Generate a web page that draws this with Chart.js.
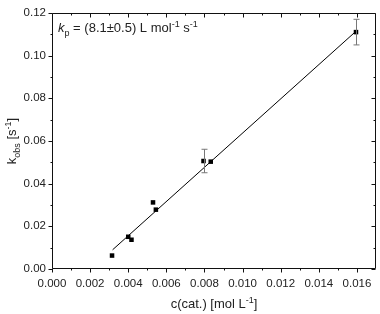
<!DOCTYPE html>
<html>
<head>
<meta charset="utf-8">
<script src="https://cdn.jsdelivr.net/npm/chart.js@4/dist/chart.umd.min.js"></script>
<style>
html,body{margin:0;padding:0;background:#fff;}
#wrap{width:380px;height:314px;position:relative;}
</style>
</head>
<body>
<div id="wrap"><canvas id="c" width="380" height="314"></canvas></div>
<script>
// Data
const concentrations = [0.00315, 0.0040, 0.00417, 0.0053, 0.00545, 0.00795, 0.00833, 0.01595];
const kobsValues     = [0.0063, 0.0151, 0.0137, 0.0312, 0.0278, 0.0506, 0.0503, 0.1110];
const kobsErrors     = [0, 0, 0, 0, 0, 0.0055, 0, 0.0060];
const fitX = [0.00318, 0.0160];
const fitY = [0.0090, 0.1118];
const xTickValues = [0, 0.002, 0.004, 0.006, 0.008, 0.010, 0.012, 0.014, 0.016];
const yTickValues = [0, 0.02, 0.04, 0.06, 0.08, 0.10, 0.12];
const xMinorValues = [0.001, 0.003, 0.005, 0.007, 0.009, 0.011, 0.013, 0.015];
const yMinorValues = [0.01, 0.03, 0.05, 0.07, 0.09, 0.11];

const FONT = '"Liberation Sans", Arial, sans-serif';
const TXT = '#222';

const framePlugin = {
  id: 'frame',
  afterDatasetsDraw(chart) {
    const ctx = chart.ctx;
    const a = chart.chartArea;
    const xs = chart.scales.x, ys = chart.scales.y;
    ctx.save();
    // error bars
    ctx.strokeStyle = '#777';
    ctx.lineWidth = 1;
    concentrations.forEach((cx, i) => {
      const e = kobsErrors[i];
      if (!e) return;
      const px = Math.round(xs.getPixelForValue(cx)) + 0.5;
      const yt = ys.getPixelForValue(kobsValues[i] + e);
      const yb = ys.getPixelForValue(kobsValues[i] - e);
      ctx.beginPath();
      ctx.moveTo(px, yt); ctx.lineTo(px, yb);
      ctx.moveTo(px - 3, yt); ctx.lineTo(px + 3, yt);
      ctx.moveTo(px - 3, yb); ctx.lineTo(px + 3, yb);
      ctx.stroke();
    });
    // frame
    ctx.strokeStyle = '#111';
    ctx.lineWidth = 1;
    const L = Math.round(a.left) + 0.5, R = Math.round(a.right) - 0.5;
    const T = Math.round(a.top) + 0.5, B = Math.round(a.bottom) - 0.5;
    ctx.beginPath();
    ctx.rect(L, T, R - L, B - T);
    ctx.stroke();
    ctx.beginPath();
    xTickValues.forEach(v => {
      const p = Math.round(xs.getPixelForValue(v)) + 0.5;
      ctx.moveTo(p, B); ctx.lineTo(p, B + 4);
      ctx.moveTo(p, T); ctx.lineTo(p, T + 4);
    });
    xMinorValues.forEach(v => {
      const p = Math.round(xs.getPixelForValue(v)) + 0.5;
      ctx.moveTo(p, B); ctx.lineTo(p, B + 2);
      ctx.moveTo(p, T); ctx.lineTo(p, T + 2);
    });
    yTickValues.forEach(v => {
      const p = Math.round(ys.getPixelForValue(v)) + 0.5;
      ctx.moveTo(L, p); ctx.lineTo(L - 4, p);
      ctx.moveTo(R, p); ctx.lineTo(R - 4, p);
    });
    yMinorValues.forEach(v => {
      const p = Math.round(ys.getPixelForValue(v)) + 0.5;
      ctx.moveTo(L, p); ctx.lineTo(L - 2, p);
      ctx.moveTo(R, p); ctx.lineTo(R - 2, p);
    });
    ctx.stroke();

    // rich text helpers
    const SMALL = 0.72;
    function fontFor(p, size) {
      const fs = p.sub || p.sup ? Math.round(size * SMALL) : size;
      return (p.italic ? 'italic ' : '') + fs + 'px ' + FONT;
    }
    function drawRich(parts, x, y, size) {
      let cx = x;
      parts.forEach(p => {
        ctx.font = fontFor(p, size);
        const dy = p.sub ? size * 0.28 : (p.sup ? -size * 0.38 : 0);
        ctx.fillText(p.t, cx, y + dy);
        cx += ctx.measureText(p.t).width;
      });
      return cx - x;
    }
    function measureRich(parts, size) {
      let w = 0;
      parts.forEach(p => {
        ctx.font = fontFor(p, size);
        w += ctx.measureText(p.t).width;
      });
      return w;
    }
    ctx.fillStyle = TXT;
    ctx.textBaseline = 'alphabetic';
    ctx.textAlign = 'left';
    // annotation
    drawRich([
      {t: 'k', italic: true}, {t: 'p', sub: true},
      {t: ' = (8.1\u00B10.5) L mol'}, {t: '-1', sup: true},
      {t: ' s'}, {t: '-1', sup: true}
    ], 58, 32, 13);
    // x title
    const xt = [{t: 'c(cat.) [mol L'}, {t: '-1', sup: true}, {t: ']'}];
    const xw = measureRich(xt, 13);
    drawRich(xt, (a.left + a.right) / 2 - xw / 2, 308, 13);
    // y title
    const yt = [{t: 'k'}, {t: 'obs', sub: true}, {t: ' [s'}, {t: '-1', sup: true}, {t: ']'}];
    const yw = measureRich(yt, 13);
    ctx.save();
    ctx.translate(16, 141);
    ctx.rotate(-Math.PI / 2);
    drawRich(yt, -yw / 2, 0, 13);
    ctx.restore();
    ctx.restore();
  }
};

new Chart(document.getElementById('c'), {
  type: 'scatter',
  data: {
    datasets: [
      {
        data: concentrations.map((x, i) => ({x, y: kobsValues[i]})),
        pointStyle: 'rect',
        pointRadius: 3.2,
        backgroundColor: '#000',
        borderColor: '#000',
        borderWidth: 0
      },
      {
        type: 'line',
        data: fitX.map((x, i) => ({x, y: fitY[i]})),
        borderColor: '#000',
        borderWidth: 1,
        pointRadius: 0,
        fill: false
      }
    ]
  },
  options: {
    responsive: false,
    animation: false,
    devicePixelRatio: 1,
    layout: {padding: {top: 5, right: 2, left: 0, bottom: 0}},
    plugins: {legend: {display: false}, tooltip: {enabled: false}},
    scales: {
      x: {
        type: 'linear', min: 0, max: 0.017,
        afterBuildTicks: s => { s.ticks = xTickValues.map(v => ({value: v})); },
        afterFit: s => { s.height = 45; },
        grid: {display: false, drawTicks: false},
        border: {display: false},
        ticks: {
          padding: 8, color: TXT, maxRotation: 0, autoSkip: false,
          font: {family: FONT, size: 11.5},
          callback: v => v.toFixed(3)
        }
      },
      y: {
        type: 'linear', min: 0, max: 0.12,
        afterBuildTicks: s => { s.ticks = yTickValues.map(v => ({value: v})); },
        afterFit: s => { s.width = 52; },
        grid: {display: false, drawTicks: false},
        border: {display: false},
        ticks: {
          padding: 6, color: TXT, autoSkip: false,
          font: {family: FONT, size: 11.5},
          callback: v => v.toFixed(2)
        }
      }
    }
  },
  plugins: [framePlugin]
});
</script>
</body>
</html>
